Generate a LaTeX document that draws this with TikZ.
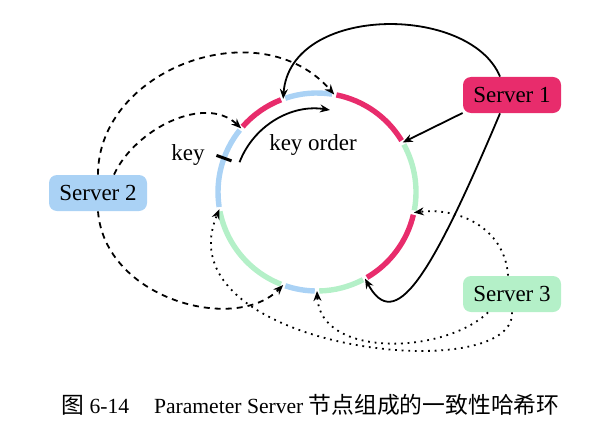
\documentclass[tikz,border=0pt]{standalone}
\usepackage{fontspec}
\setmainfont{Liberation Serif}
\newfontfamily\cjk{Noto Sans CJK SC}
\usetikzlibrary{calc, arrows.meta}

\definecolor{ringred}{RGB}{232,44,108}
\definecolor{ringblue}{RGB}{170,210,245}
\definecolor{ringgreen}{RGB}{180,240,200}

\begin{document}
\begin{tikzpicture}[
    x=0.5pt, y=0.5pt,
    server/.style={rectangle, rounded corners=4pt, minimum width=49pt, minimum height=18pt,
        inner sep=0pt, font=\fontsize{11.5}{13}\selectfont},
    label/.style={inner sep=0pt, font=\fontsize{11.5}{13}\selectfont},
    seg/.style={line width=2.7pt},
    solidarrow/.style={-{Stealth[length=5pt, width=4pt]}, line width=0.9pt},
    dashedarrow/.style={solidarrow, dash pattern=on 3pt off 2.5pt},
    dottedarrow/.style={solidarrow, dash pattern=on 0.9pt off 2.4pt}
]
\useasboundingbox (0,0) rectangle (613,429);

% Hash ring
\coordinate (c) at (317,237);
\foreach \a/\b/\col in {-12/30/ringgreen, 30/80/ringred, 80/110/ringblue, 110/140/ringred,
    140/190/ringblue, 190/250/ringgreen, 250/270/ringblue, 270/299/ringgreen, 299/348/ringred}
    \draw[seg, \col] ($(c)+(\a+1.3:99)$) arc[start angle=\a+1.3, end angle=\b-1.3, radius=99];

% Gaps on the ring
\foreach \g in {30,80,110,140,190,250,270,299,348}
    \coordinate (g\g) at ($(c)+(\g:99)$);

% Servers
\node[server, fill=ringred] (s1) at (512,334) {Server 1};
\node[server, fill=ringblue] (s2) at (98,236) {Server 2};
\node[server, fill=ringgreen] (s3) at (512,135) {Server 3};

% Key and key order
\node[label] (key) at (188,274) {key};
\coordinate (keyin) at ($(c)+(160:91)$);
\coordinate (keyout) at ($(c)+(160:107)$);
\draw[line width=1.5pt] (keyin) -- (keyout);
\coordinate (orderstart) at ($(c)+(159:83)$);
\draw[solidarrow] (orderstart) arc[start angle=159, end angle=81, radius=83];
\node[label] (order) at (313,284) {key order};

% Server 1
\draw[solidarrow] (s1.200) -- (g30);
\draw[solidarrow] ([xshift=-6pt]s1.north) .. controls (470,425) and (290,425) .. (g110);
\draw[solidarrow] ([xshift=-6pt]s1.south) .. controls (430,150) and (395,95) .. (g299);

% Server 2
\draw[dashedarrow] (s2.north) .. controls (98,360) and (260,420) .. (g80);
\draw[dashedarrow] ([xshift=8pt]s2.north) .. controls (135,300) and (205,335) .. (g140);
\draw[dashedarrow] (s2.south) .. controls (105,130) and (235,95) .. (g250);

% Server 3
\draw[dottedarrow] ([xshift=-2pt]s3.north) .. controls (505,200) and (460,222) .. (g348);
\draw[dottedarrow] ([xshift=-12pt]s3.south) .. controls (445,75) and (320,70) .. (g270);
\draw[dottedarrow] (s3.south) .. controls (515,40) and (160,80) .. (g190);

% Caption
\node[inner sep=0pt, anchor=west, font=\fontsize{10.8}{13}\selectfont] (caption) at (61,24)
    {{\cjk\fontsize{11.4}{13}\selectfont 图}~6-14\hspace{1.15em}Parameter Server
     {\cjk\fontsize{11.4}{13}\selectfont 节点组成的一致性哈希环}};

\end{tikzpicture}
\end{document}
